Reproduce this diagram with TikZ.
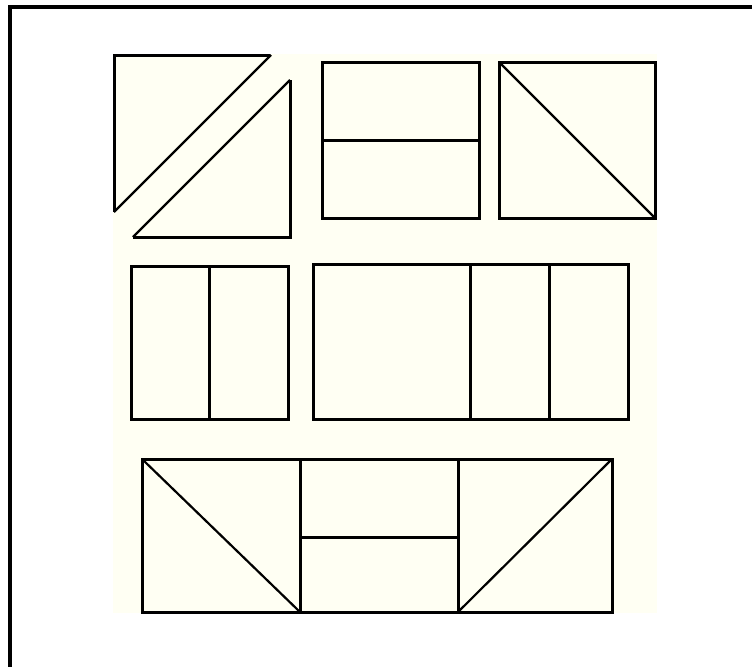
\documentclass[tikz,border=0pt]{standalone}
\usepackage{tikz}
\definecolor{cream}{RGB}{255,255,243}
\tikzset{
  panel/.style={draw=black, line width=3pt, line join=miter},
  diag/.style={draw=black, line width=2.2pt},
  frame/.style={draw=black, line width=4pt}
}
\begin{document}
\begin{tikzpicture}[x=1pt,y=-1pt]
\useasboundingbox (0,0) rectangle (752,667);
\fill[white] (0,0) rectangle (752,667);
% cream background
\fill[cream] (113,54) rectangle (657,613);
% outer frame (top and left only)
\draw[frame] (752,7) -- (10,7) -- (10,667);
% shape 1: two triangles
\draw[panel] (270,55) -- (114,55) -- (114,212);
\draw[diag] (271,55) -- (114,212);
\draw[panel] (290,80) -- (290,237) -- (133,237);
\draw[diag] (290,80) -- (133,237);
% shape 2: rectangle with horizontal divider
\draw[panel] (322,62) rectangle (479,218);
\draw[panel] (322,140) -- (479,140);
% shape 3: square with diagonal
\draw[panel] (499,62) rectangle (655,218);
\draw[diag] (499,62) -- (655,218);
% row 2 left
\draw[panel] (131,266) rectangle (288,419);
\draw[panel] (209,266) -- (209,419);
% row 2 right
\draw[panel] (313,264) rectangle (628,419);
\draw[panel] (470,264) -- (470,419);
\draw[panel] (549,264) -- (549,419);
% row 3
\draw[panel] (142,459) rectangle (612,612);
\draw[panel] (300,459) -- (300,612);
\draw[panel] (458,459) -- (458,612);
\draw[panel] (300,537) -- (458,537);
\draw[diag] (142,459) -- (300,612);
\draw[diag] (458,612) -- (612,459);
\end{tikzpicture}
\end{document}
